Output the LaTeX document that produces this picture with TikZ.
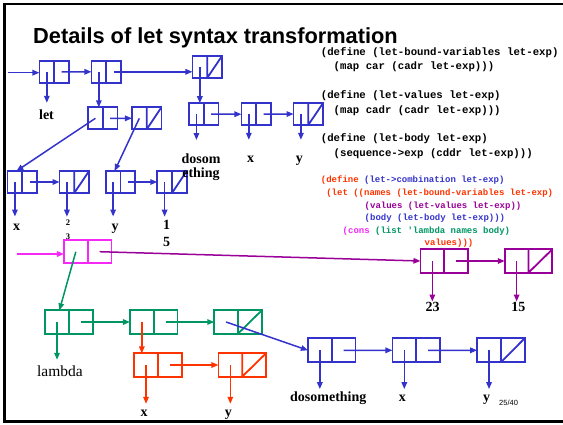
\documentclass[tikz,border=0pt]{standalone}
\usepackage{fontspec}
\setmainfont{Liberation Serif}
\setsansfont{Liberation Sans}
\setmonofont{Liberation Mono}
\usetikzlibrary{arrows.meta,calc}

\definecolor{cblue}{RGB}{51,51,204}
\definecolor{cmag}{RGB}{245,40,245}
\definecolor{cpurple}{RGB}{153,0,153}
\definecolor{cgreen}{RGB}{0,150,100}
\definecolor{cred}{RGB}{255,51,0}

% car / cdr centres of a cons cell
\newcommand\cellpts[1]{%
  \coordinate (#1a) at ($(#1.west)!.5!(#1.center)$);
  \coordinate (#1d) at ($(#1.center)!.5!(#1.east)$);}

\tikzset{
  cell/.style={draw, inner sep=0pt, outer sep=0pt, line width=1.8pt,
    minimum height=22, minimum width=29.5,
    path picture={\draw[line width=1.8pt]
      (path picture bounding box.north) -- (path picture bounding box.south);}},
  nilcell/.style={cell,
    path picture={\draw[line width=1.8pt]
      (path picture bounding box.north) -- (path picture bounding box.south)
      (path picture bounding box.south) -- (path picture bounding box.north east);}},
  big/.style={minimum width=47.5, minimum height=23.3},
  ptr/.style={line width=1.5pt, -{Triangle[length=7pt,width=5.5pt]}},
  lbl/.style={font=\bfseries\fontsize{14}{16}\selectfont, inner sep=0pt,
    anchor=base, text height=9.5pt},
  lbltwo/.style={font=\bfseries\fontsize{14}{17}\selectfont, inner sep=0pt,
    anchor=north, align=center},
  code/.style={font=\ttfamily\bfseries\fontsize{10.7}{12}\selectfont,
    inner sep=0pt, anchor=base west},
  ccode/.style={font=\ttfamily\bfseries\fontsize{9}{10}\selectfont,
    inner sep=0pt, anchor=base west},
}

\begin{document}
\begin{tikzpicture}[x=1pt,y=-1pt]
\useasboundingbox (0,0) rectangle (563,424);

% slide frame
\draw[line width=2.6pt] (563,3.8) -- (4.7,3.8) -- (4.7,421.3) -- (563,421.3);

% title
\node[anchor=base west, inner sep=0pt,
  font=\sffamily\bfseries\fontsize{21.8}{24}\selectfont] (title) at (33,43)
  {Details of let syntax transformation};

% selectors
\node[code] (k1) at (320.7,55.5) {(define (let-bound-variables let-exp)};
\node[code] (k2) at (333.5,69)   {(map car (cadr let-exp)))};
\node[code] (k3) at (320.7,98.5) {(define (let-values let-exp)};
\node[code] (k4) at (333.5,113)  {(map cadr (cadr let-exp)))};
\node[code] (k5) at (320.7,141.5) {(define (let-body let-exp)};
\node[code] (k6) at (333.5,156)  {(sequence->exp (cddr let-exp)))};

% let->combination
\node[ccode] (q1) at (320.7,182.5) {\textcolor{cred}{(define} \textcolor{cblue}{(let->combination let-exp)}};
\node[ccode, cred] (q2) at (326.1,195.8) {(let ((names (let-bound-variables let-exp)};
\node[ccode, cpurple] (q3) at (364.5,208.3) {(values (let-values let-exp))};
\node[ccode, cblue] (q4) at (364.5,220.8) {(body (let-body let-exp)))};
\node[ccode] (q5) at (342.5,233.4) {\textcolor{cmag}{(cons} \textcolor{cgreen}{(list 'lambda names body)}};
\node[ccode, cred] (q6) at (424.5,245.3) {values)))};

% ---------- original let expression (blue) ----------
\begin{scope}[cblue]
\node[cell] (t1) at (54.2,71.8) {};      \cellpts{t1}
\node[cell] (t2) at (106.2,71.8) {};     \cellpts{t2}
\node[nilcell] (t3) at (207.2,67) {};    \cellpts{t3}
\node[cell] (A) at (102.8,118.3) {};     \cellpts{A}
\node[nilcell] (B) at (146.7,118.3) {};  \cellpts{B}
\node[cell] (c1) at (22.3,182) {};       \cellpts{c1}
\node[nilcell] (c2) at (74.3,182) {};    \cellpts{c2}
\node[cell] (c3) at (120.5,182) {};      \cellpts{c3}
\node[nilcell] (c4) at (172,182) {};     \cellpts{c4}
\node[cell] (D) at (203.8,114.2) {};     \cellpts{D}
\node[cell] (E) at (256.2,114.2) {};     \cellpts{E}
\node[nilcell] (F) at (308.3,114) {};    \cellpts{F}

\coordinate (in1) at (8,72.7);
\draw[ptr] (in1) -- (in1 -| t1.west);
\draw[ptr] (t1d) -- (t2.west);
\draw[ptr] (t2d) -- (t2d -| t3.west);
\draw[ptr] (t2a) -- (t2a |- A.north);
\draw[ptr] (t3a) -- (t3a |- D.north);
\draw[ptr] (Ad) -- (B.west);
\draw[ptr] (Aa) -- ($(c1.north west)!.3!(c1.north east)$);
\draw[ptr] (Ba) -- ($(c3.north west)!.3!(c3.north east)$);
\draw[ptr] (c1d) -- (c2.west);
\draw[ptr] (c3d) -- (c4.west);
\draw[ptr] (Dd) -- (E.west);
\draw[ptr] (Ed) -- (F.west);
\end{scope}

\node[lbl] (lLet) at (46.5,119.3) {let};
\node[lbl] (lx1) at (16.7,230) {x};
\node[lbltwo, font=\bfseries\fontsize{8.5}{14.3}\selectfont] (l23a) at (68,219.3) {2\\3};
\node[lbl] (ly1) at (115,230) {y};
\node[lbltwo] (l15a) at (166.7,220) {1\\5};
\node[lbltwo, font=\bfseries\fontsize{14}{14}\selectfont] (lDos) at (201,153.2) {dosom\\ething};
\node[lbl] (lx2) at (250.7,162.7) {x};
\node[lbl] (ly2) at (299.3,162.7) {y};

\begin{scope}[cblue]
\draw[ptr, shorten >=6.8pt] (t1a) -- (t1a |- lLet.north);
\draw[ptr, shorten >=3.8pt] (c1a) -- (c1a |- lx1.north);
\draw[ptr, shorten >=2.6pt] (c2a) -- (c2a |- l23a.north);
\draw[ptr, shorten >=3.8pt] (c3a) -- (c3a |- ly1.north);
\draw[ptr, shorten >=3.3pt] (c4a) -- (c4a |- l15a.north);
\draw[ptr, shorten >=13.2pt] (Da) -- (Da |- lDos.north);
\draw[ptr, shorten >=13.2pt] (Ea) -- (Ea |- lx2.north);
\draw[ptr, shorten >=13.2pt] (Fa) -- (Fa |- ly2.north);
\end{scope}

% ---------- resulting combination ----------
\node[cell, big, cmag] (mag) at (87.7,251.7) {};     \cellpts{mag}
\node[cell, big, cpurple] (P1) at (444.2,261) {};    \cellpts{P1}
\node[nilcell, big, cpurple] (P2) at (528.5,261) {}; \cellpts{P2}
\node[cell, big, cgreen] (G1) at (68.9,322) {};      \cellpts{G1}
\node[cell, big, cgreen] (G2) at (153.7,322) {};     \cellpts{G2}
\node[nilcell, big, cgreen] (G3) at (238,322) {};    \cellpts{G3}
\node[cell, big, cred] (R1) at (157.9,365) {};       \cellpts{R1}
\node[nilcell, big, cred] (R2) at (242.2,365) {};    \cellpts{R2}
\node[cell, big, cblue, minimum height=24] (B1) at (331.7,350.3) {};    \cellpts{B1}
\node[cell, big, cblue, minimum height=24] (B2) at (416.2,350.3) {};    \cellpts{B2}
\node[nilcell, big, cblue, minimum height=24] (B3) at (500.9,350.3) {}; \cellpts{B3}

\node[lbl] (l23) at (432.7,311.7) {23};
\node[lbl] (l15) at (518.3,311.7) {15};
\node[lbl, font=\fontsize{15.5}{17}\selectfont] (lLam) at (60,376.5) {lambda};
\node[lbl] (lx3) at (144,416.7) {x};
\node[lbl] (ly3) at (228.3,416.7) {y};
\node[lbl] (lDo) at (328.3,401.7) {dosomething};
\node[lbl] (lx4) at (402.3,401.7) {x};
\node[lbl] (ly4) at (486.7,401.7) {y};
\node[anchor=base west, inner sep=0pt, font=\sffamily\fontsize{7.5}{9}\selectfont]
  (page) at (499,405.7) {25/40};

\coordinate (in2) at (17.3,254);
\draw[ptr, cmag] (in2) -- (in2 -| mag.west);
\draw[ptr, cpurple] (magd) -- (P1.west);
\draw[ptr, cpurple] (P1d) -- (P2.west);
\draw[ptr, cpurple, shorten >=0.5pt] (P1a) -- (P1a |- l23.north);
\draw[ptr, cpurple, shorten >=0.5pt] (P2a) -- (P2a |- l15.north);

\draw[ptr, cgreen] (maga) -- ($(G1.north west)!.3!(G1.north east)$);
\draw[ptr, cgreen] (G1d) -- (G2.west);
\draw[ptr, cgreen] (G2d) -- (G3.west);
\draw[ptr, cgreen, shorten >=7pt] (G1a) -- (G1a |- lLam.north);

\draw[ptr, cred] (G2a) -- (G2a |- R1.north);
\draw[ptr, cred] (R1d) -- (R2.west);
\draw[ptr, cred, shorten >=3.2pt] (R1a) -- (R1a |- lx3.north);
\draw[ptr, cred, shorten >=3.2pt] (R2a) -- (R2a |- ly3.north);

\draw[ptr, cblue] (G3a) -- (B1.west);
\draw[ptr, cblue] (B1d) -- (B2.west);
\draw[ptr, cblue] (B2d) -- (B3.west);
\draw[ptr, cblue, shorten >=2.9pt] (B1a) -- (B1a |- lDo.north);
\draw[ptr, cblue, shorten >=2.9pt] (B2a) -- (B2a |- lx4.north);
\draw[ptr, cblue, shorten >=2.9pt] (B3a) -- (B3a |- ly4.north);
\end{tikzpicture}
\end{document}
